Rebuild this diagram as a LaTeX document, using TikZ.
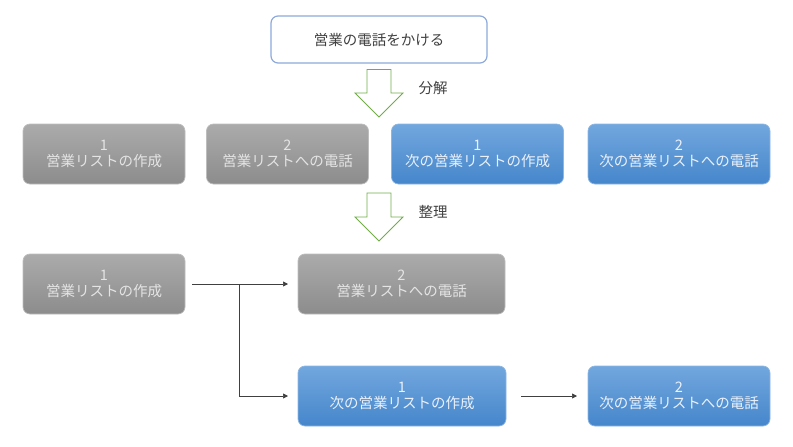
\documentclass[tikz,border=0pt]{standalone}
\usepackage{fontspec}
\setmainfont{Noto Sans CJK JP}
\usetikzlibrary{arrows.meta}
\definecolor{gtop}{HTML}{ABABAB}
\definecolor{gbot}{HTML}{8C8C8C}
\definecolor{gline}{HTML}{BDBDBD}
\definecolor{gtext}{HTML}{E4E4E4}
\definecolor{btop}{HTML}{72A7DE}
\definecolor{bbot}{HTML}{4586CB}
\definecolor{bline}{HTML}{8DB6E3}
\definecolor{btext}{HTML}{EAF1FA}
\definecolor{topline}{HTML}{8EA9DB}
\definecolor{dtext}{HTML}{404040}
\definecolor{agreen}{HTML}{70AD47}
\tikzset{
  box/.style={rounded corners=7pt, inner sep=0pt, outer sep=0pt, align=center,
    font=\fontsize{14.5}{16.5}\selectfont, line width=0.7pt},
  graybox/.style={box, top color=gtop, bottom color=gbot, draw=gline, text=gtext},
  bluebox/.style={box, top color=btop, bottom color=bbot, draw=bline, text=btext},
  topbox/.style={box, fill=white, draw=topline, line width=1.2pt, text=dtext},
  hollowarrow/.style={draw=agreen, fill=white, line width=0.8pt, line join=miter},
  lbl/.style={font=\fontsize{14.5}{16}\selectfont, text=dtext, inner sep=0pt},
  conn/.style={draw=dtext, line width=0.7pt, -{Triangle[length=5pt,width=5pt]}},
}
\begin{document}
\begin{tikzpicture}[x=1pt,y=-1pt]
\useasboundingbox (0,0) rectangle (793,447);
% top box
\node[topbox, minimum width=216pt, minimum height=47pt] (top) at (379,39.5) {営業の電話をかける};
% arrow 1
\draw[hollowarrow] (367,69.5) -- (391,69.5) -- (391,93) -- (403,93) -- (379,117) -- (355,93) -- (367,93) -- cycle;
\node[lbl] (l1) at (433,88) {分解};
% row 2
\node[graybox, minimum width=162pt, minimum height=60pt] (a) at (104,154) {1\\営業リストの作成};
\node[graybox, minimum width=162pt, minimum height=60pt] (b) at (287.5,154) {2\\営業リストへの電話};
\node[bluebox, minimum width=172pt, minimum height=60pt] (c) at (477.5,154) {1\\次の営業リストの作成};
\node[bluebox, minimum width=182pt, minimum height=60pt] (d) at (679,154) {2\\次の営業リストへの電話};
% arrow 2
\draw[hollowarrow] (367,193) -- (391,193) -- (391,217) -- (403,217) -- (379,241) -- (355,217) -- (367,217) -- cycle;
\node[lbl] (l2) at (433,212) {整理};
% row 3
\node[graybox, minimum width=162pt, minimum height=60pt] (e) at (104,284) {1\\営業リストの作成};
\node[graybox, minimum width=207pt, minimum height=60pt] (f) at (401.5,284) {2\\営業リストへの電話};
% row 4
\node[bluebox, minimum width=208pt, minimum height=60pt] (g) at (402,396) {1\\次の営業リストの作成};
\node[bluebox, minimum width=182pt, minimum height=60pt] (h) at (679,396) {2\\次の営業リストへの電話};
% connectors
\coordinate (j) at (239.5,284);
\draw[conn, shorten <=7pt, shorten >=10pt] (e.east) -- (f.west);
\draw[conn, shorten >=10pt] (j) |- (g.west);
\draw[conn, shorten <=15pt, shorten >=11pt] (g.east) -- (h.west);
\end{tikzpicture}
\end{document}
